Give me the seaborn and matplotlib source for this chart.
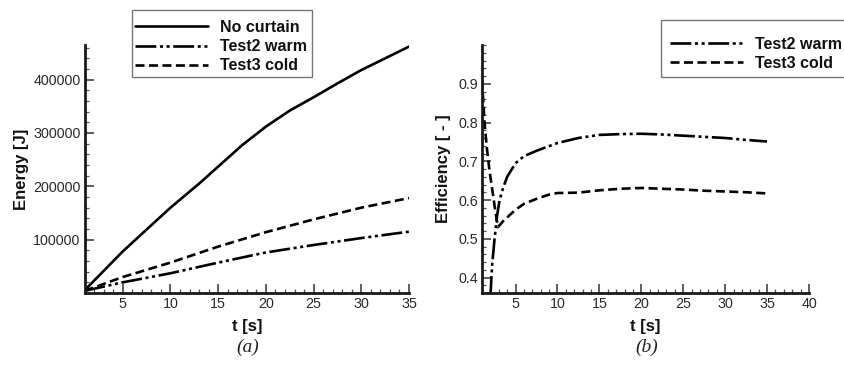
import numpy as np
import pandas as pd
import matplotlib
matplotlib.use("Agg")
import matplotlib.pyplot as plt
from matplotlib.patches import Rectangle
from matplotlib.ticker import MultipleLocator
import seaborn as sns

# ---- energy lost through the doorway (panel a) ----
t_energy = [1, 5, 10, 13, 15, 17.5, 20, 22.5, 25, 27.5, 30, 32.5, 35]
energy_no_curtain = [5000, 78000, 160000, 205000, 237000, 277000, 312000,
                     342000, 367000, 393000, 418000, 440000, 462000]
t_energy_tests = [1, 5, 10, 15, 20, 25, 30, 35]
energy_test2_warm = [4000, 20000, 37000, 57000, 76000, 90000, 103000, 115000]
energy_test3_cold = [4000, 30000, 57000, 87000, 114000, 138000, 160000, 178000]

# ---- air-curtain efficiency (panel b) ----
t_eff_warm = [2.0, 2.2, 2.5, 2.8, 3.1, 3.5, 4, 5, 6, 7.5, 10, 12.5, 15, 17.5,
              20, 22.5, 25, 27.5, 30, 32.5, 35]
eff_test2_warm = [0.35, 0.43, 0.50, 0.56, 0.60, 0.63, 0.66, 0.695, 0.713, 0.727,
                  0.747, 0.760, 0.768, 0.770, 0.771, 0.769, 0.766, 0.763, 0.760,
                  0.755, 0.751]
t_eff_cold = [1.0, 1.3, 1.6, 1.9, 2.2, 2.5, 2.9, 3.5, 4, 5, 6, 7.5, 9, 10, 12.5,
              15, 17.5, 20, 22.5, 25, 27.5, 30, 32.5, 35]
eff_test3_cold = [0.91, 0.80, 0.73, 0.675, 0.63, 0.585, 0.53, 0.545, 0.555, 0.575,
                  0.59, 0.603, 0.614, 0.618, 0.619, 0.625, 0.629, 0.631, 0.629,
                  0.627, 0.624, 0.622, 0.620, 0.617]

labels_a = ["No curtain", "Test2 warm", "Test3 cold"]
labels_b = ["Test2 warm", "Test3 cold"]

sns.set_theme(style="white")
plt.rcParams["font.family"] = ["Liberation Sans", "DejaVu Sans"]
plt.rcParams["lines.scale_dashes"] = False

W, H = 844, 365
fig = plt.figure(figsize=(W / 100, H / 100), dpi=100)

def fig_box(x0, y0, x1, y1):
    """pixel box (top-left origin) -> figure-fraction rect"""
    return [x0 / W, 1 - y1 / H, (x1 - x0) / W, (y1 - y0) / H]

ax_a = fig.add_axes(fig_box(84.6, 45, 409, 293))
ax_b = fig.add_axes(fig_box(482, 45, 809, 293))

LW = 1.9
styles = {
    "No curtain": dict(linestyle="-"),
    "Test2 warm": dict(linestyle=(0, (15, 2.6, 2.2, 2.6, 2.2, 2.6))),
    "Test3 cold": dict(linestyle=(0, (6.5, 3.2))),
}

def draw(ax, x, y, name):
    sns.lineplot(x=x, y=y, ax=ax, color="black", linewidth=LW, label=name,
                 sort=False, estimator=None, **styles[name])

draw(ax_a, t_energy, energy_no_curtain, "No curtain")
draw(ax_a, t_energy_tests, energy_test2_warm, "Test2 warm")
draw(ax_a, t_energy_tests, energy_test3_cold, "Test3 cold")

draw(ax_b, t_eff_warm, eff_test2_warm, "Test2 warm")
draw(ax_b, t_eff_cold, eff_test3_cold, "Test3 cold")

ax_a.set_xlim(1, 35)
ax_a.set_ylim(0, 465000)
ax_a.set_xticks([5, 10, 15, 20, 25, 30, 35])
ax_a.set_yticks([100000, 200000, 300000, 400000])
ax_a.xaxis.set_minor_locator(MultipleLocator(1))
ax_a.yaxis.set_minor_locator(MultipleLocator(20000))

ax_b.set_xlim(1, 40)
ax_b.set_ylim(0.36, 1.0)
ax_b.set_xticks([5, 10, 15, 20, 25, 30, 35, 40])
ax_b.set_yticks([0.4, 0.5, 0.6, 0.7, 0.8, 0.9])
ax_b.xaxis.set_minor_locator(MultipleLocator(1))
ax_b.yaxis.set_minor_locator(MultipleLocator(0.02))
ax_b.yaxis.set_major_formatter(matplotlib.ticker.FormatStrFormatter("%.1f"))

for ax in (ax_a, ax_b):
    for side in ("top", "right"):
        ax.spines[side].set_visible(False)
    for side in ("left", "bottom"):
        ax.spines[side].set_linewidth(2.0)
        ax.spines[side].set_color("#1a1a1a")
    ax.tick_params(which="major", direction="in", length=6.5, width=1.1,
                   color="#333333", labelsize=10.3, labelcolor="#2a2a2a", pad=3,
                   left=True, bottom=True, right=False, top=False)
    ax.tick_params(which="minor", direction="in", length=3.2, width=0.9,
                   color="#555555", left=True, bottom=True, right=False, top=False)
    ax.grid(False)
    leg = ax.get_legend()
    if leg is not None:
        leg.remove()

label_font = dict(fontsize=12, fontweight="bold", color="#111111")
ax_a.set_xlabel("t [s]", labelpad=6, **label_font)
ax_a.set_ylabel("Energy [J]", labelpad=3, **label_font)
ax_b.set_xlabel("t [s]", labelpad=6, **label_font)
ax_b.set_ylabel("Efficiency [ - ]", labelpad=5, **label_font)

# panel captions
cap = dict(fontsize=14, fontstyle="italic", family="Liberation Serif",
           ha="center", va="center", color="#222222")
fig.text(248 / W, 1 - 347 / H, "(a)", **cap)
fig.text(647 / W, 1 - 347 / H, "(b)", **cap)

# legends: framed box drawn in figure pixels, entries placed inside it
def framed_legend(ax, names, box, entry_xy, spacing):
    handles = [l for l in ax.lines if l.get_label() in names]
    leg = ax.legend(handles, names, loc="upper left",
                    bbox_to_anchor=(entry_xy[0] / W, 1 - entry_xy[1] / H),
                    bbox_transform=fig.transFigure, frameon=False, borderpad=0,
                    borderaxespad=0, handlelength=4.6, handletextpad=0.75,
                    labelspacing=spacing, prop=dict(weight="bold", size=11.5))
    for t in leg.get_texts():
        t.set_color("#111111")
    x0, y0, x1, y1 = box
    fig.patches.append(Rectangle((x0 / W, 1 - y1 / H), (x1 - x0) / W, (y1 - y0) / H,
                                 transform=fig.transFigure, fill=False,
                                 edgecolor="#777777", linewidth=1.0))

framed_legend(ax_a, labels_a, (132, 10, 312, 77), (135, 20), 0.26)
framed_legend(ax_b, labels_b, (661, 20, 860, 77), (670, 37), 0.22)

fig.savefig("out.png", dpi=100)
